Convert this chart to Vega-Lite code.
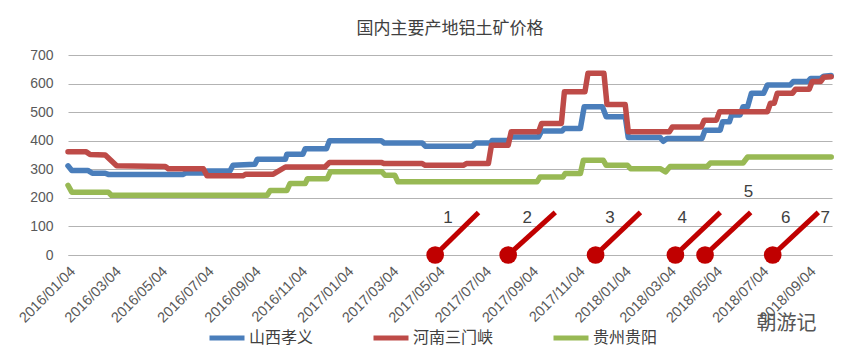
{
  "$schema": "https://vega.github.io/schema/vega-lite/v6.json",
  "width": 764,
  "height": 200,
  "autosize": {"type": "none"},
  "padding": {"left": 68, "top": 55, "right": 12, "bottom": 106},
  "background": "white",
  "config": {"view": {"stroke": null}},
  "title": {"text": "国内主要产地铝土矿价格", "font": "Noto Sans CJK SC", "fontSize": 17, "fontWeight": "normal", "color": "#404040", "offset": 10},
  "datasets": {
    "prices": [
      {"d":"2016/01/04","v":312,"s":"山西孝义"},{"d":"2016/01/09","v":296,"s":"山西孝义"},{"d":"2016/01/30","v":296,"s":"山西孝义"},{"d":"2016/02/05","v":286,"s":"山西孝义"},{"d":"2016/02/22","v":286,"s":"山西孝义"},{"d":"2016/02/26","v":282,"s":"山西孝义"},{"d":"2016/06/03","v":282,"s":"山西孝义"},{"d":"2016/06/07","v":287,"s":"山西孝义"},{"d":"2016/06/30","v":287,"s":"山西孝义"},{"d":"2016/07/05","v":294,"s":"山西孝义"},{"d":"2016/08/04","v":294,"s":"山西孝义"},{"d":"2016/08/08","v":314,"s":"山西孝义"},{"d":"2016/09/06","v":318,"s":"山西孝义"},{"d":"2016/09/09","v":335,"s":"山西孝义"},{"d":"2016/10/16","v":335,"s":"山西孝义"},{"d":"2016/10/18","v":353,"s":"山西孝义"},{"d":"2016/11/08","v":353,"s":"山西孝义"},{"d":"2016/11/11","v":372,"s":"山西孝义"},{"d":"2016/12/09","v":372,"s":"山西孝义"},{"d":"2016/12/13","v":400,"s":"山西孝义"},{"d":"2017/02/19","v":400,"s":"山西孝义"},{"d":"2017/02/23","v":392,"s":"山西孝义"},{"d":"2017/04/14","v":392,"s":"山西孝义"},{"d":"2017/04/18","v":381,"s":"山西孝义"},{"d":"2017/06/19","v":381,"s":"山西孝义"},{"d":"2017/06/23","v":392,"s":"山西孝义"},{"d":"2017/07/13","v":392,"s":"山西孝义"},{"d":"2017/07/15","v":401,"s":"山西孝义"},{"d":"2017/08/05","v":401,"s":"山西孝义"},{"d":"2017/08/09","v":413,"s":"山西孝义"},{"d":"2017/09/14","v":413,"s":"山西孝义"},{"d":"2017/09/18","v":434,"s":"山西孝义"},{"d":"2017/10/15","v":434,"s":"山西孝义"},{"d":"2017/10/18","v":443,"s":"山西孝义"},{"d":"2017/11/08","v":443,"s":"山西孝义"},{"d":"2017/11/13","v":519,"s":"山西孝义"},{"d":"2017/12/07","v":519,"s":"山西孝义"},{"d":"2017/12/12","v":484,"s":"山西孝义"},{"d":"2018/01/06","v":484,"s":"山西孝义"},{"d":"2018/01/10","v":411,"s":"山西孝义"},{"d":"2018/02/21","v":411,"s":"山西孝义"},{"d":"2018/02/25","v":398,"s":"山西孝义"},{"d":"2018/03/02","v":408,"s":"山西孝义"},{"d":"2018/04/17","v":408,"s":"山西孝义"},{"d":"2018/04/21","v":437,"s":"山西孝义"},{"d":"2018/05/11","v":437,"s":"山西孝义"},{"d":"2018/05/14","v":466,"s":"山西孝义"},{"d":"2018/05/23","v":466,"s":"山西孝义"},{"d":"2018/05/26","v":490,"s":"山西孝义"},{"d":"2018/06/06","v":490,"s":"山西孝义"},{"d":"2018/06/10","v":519,"s":"山西孝义"},{"d":"2018/06/16","v":519,"s":"山西孝义"},{"d":"2018/06/21","v":566,"s":"山西孝义"},{"d":"2018/07/07","v":566,"s":"山西孝义"},{"d":"2018/07/12","v":595,"s":"山西孝义"},{"d":"2018/08/11","v":595,"s":"山西孝义"},{"d":"2018/08/15","v":607,"s":"山西孝义"},{"d":"2018/09/03","v":607,"s":"山西孝义"},{"d":"2018/09/07","v":618,"s":"山西孝义"},{"d":"2018/09/20","v":618,"s":"山西孝义"},{"d":"2018/09/24","v":626,"s":"山西孝义"},{"d":"2018/10/04","v":628,"s":"山西孝义"},
      {"d":"2016/01/04","v":361,"s":"河南三门峡"},{"d":"2016/01/28","v":361,"s":"河南三门峡"},{"d":"2016/02/02","v":352,"s":"河南三门峡"},{"d":"2016/02/22","v":350,"s":"河南三门峡"},{"d":"2016/03/08","v":312,"s":"河南三门峡"},{"d":"2016/05/11","v":310,"s":"河南三门峡"},{"d":"2016/05/15","v":302,"s":"河南三门峡"},{"d":"2016/06/30","v":302,"s":"河南三门峡"},{"d":"2016/07/05","v":277,"s":"河南三门峡"},{"d":"2016/08/21","v":277,"s":"河南三门峡"},{"d":"2016/08/25","v":283,"s":"河南三门峡"},{"d":"2016/09/30","v":283,"s":"河南三门峡"},{"d":"2016/10/16","v":308,"s":"河南三门峡"},{"d":"2016/12/07","v":308,"s":"河南三门峡"},{"d":"2016/12/13","v":324,"s":"河南三门峡"},{"d":"2017/02/19","v":324,"s":"河南三门峡"},{"d":"2017/02/23","v":320,"s":"河南三门峡"},{"d":"2017/04/14","v":320,"s":"河南三门峡"},{"d":"2017/04/18","v":314,"s":"河南三门峡"},{"d":"2017/06/07","v":314,"s":"河南三门峡"},{"d":"2017/06/11","v":320,"s":"河南三门峡"},{"d":"2017/07/10","v":320,"s":"河南三门峡"},{"d":"2017/07/14","v":384,"s":"河南三门峡"},{"d":"2017/08/05","v":384,"s":"河南三门峡"},{"d":"2017/08/09","v":431,"s":"河南三门峡"},{"d":"2017/09/14","v":431,"s":"河南三门峡"},{"d":"2017/09/18","v":460,"s":"河南三门峡"},{"d":"2017/10/14","v":460,"s":"河南三门峡"},{"d":"2017/10/18","v":571,"s":"河南三门峡"},{"d":"2017/11/14","v":571,"s":"河南三门峡"},{"d":"2017/11/18","v":636,"s":"河南三门峡"},{"d":"2017/12/09","v":636,"s":"河南三门峡"},{"d":"2017/12/13","v":527,"s":"河南三门峡"},{"d":"2018/01/06","v":527,"s":"河南三门峡"},{"d":"2018/01/10","v":431,"s":"河南三门峡"},{"d":"2018/03/05","v":431,"s":"河南三门峡"},{"d":"2018/03/09","v":448,"s":"河南三门峡"},{"d":"2018/04/16","v":448,"s":"河南三门峡"},{"d":"2018/04/20","v":472,"s":"河南三门峡"},{"d":"2018/05/06","v":472,"s":"河南三门峡"},{"d":"2018/05/10","v":501,"s":"河南三门峡"},{"d":"2018/07/12","v":501,"s":"河南三门峡"},{"d":"2018/07/16","v":531,"s":"河南三门峡"},{"d":"2018/07/21","v":531,"s":"河南三门峡"},{"d":"2018/07/25","v":566,"s":"河南三门峡"},{"d":"2018/08/14","v":566,"s":"河南三门峡"},{"d":"2018/08/18","v":580,"s":"河南三门峡"},{"d":"2018/09/05","v":580,"s":"河南三门峡"},{"d":"2018/09/09","v":607,"s":"河南三门峡"},{"d":"2018/09/20","v":607,"s":"河南三门峡"},{"d":"2018/09/24","v":622,"s":"河南三门峡"},{"d":"2018/10/04","v":624,"s":"河南三门峡"},
      {"d":"2016/01/04","v":244,"s":"贵州贵阳"},{"d":"2016/01/09","v":220,"s":"贵州贵阳"},{"d":"2016/02/26","v":220,"s":"贵州贵阳"},{"d":"2016/03/01","v":209,"s":"贵州贵阳"},{"d":"2016/09/22","v":209,"s":"贵州贵阳"},{"d":"2016/09/26","v":226,"s":"贵州贵阳"},{"d":"2016/10/18","v":226,"s":"贵州贵阳"},{"d":"2016/10/22","v":250,"s":"贵州贵阳"},{"d":"2016/11/11","v":250,"s":"贵州贵阳"},{"d":"2016/11/14","v":267,"s":"贵州贵阳"},{"d":"2016/12/10","v":267,"s":"贵州贵阳"},{"d":"2016/12/14","v":291,"s":"贵州贵阳"},{"d":"2017/02/20","v":291,"s":"贵州贵阳"},{"d":"2017/02/24","v":279,"s":"贵州贵阳"},{"d":"2017/03/09","v":279,"s":"贵州贵阳"},{"d":"2017/03/13","v":256,"s":"贵州贵阳"},{"d":"2017/09/12","v":256,"s":"贵州贵阳"},{"d":"2017/09/16","v":273,"s":"贵州贵阳"},{"d":"2017/10/16","v":273,"s":"贵州贵阳"},{"d":"2017/10/19","v":285,"s":"贵州贵阳"},{"d":"2017/11/08","v":285,"s":"贵州贵阳"},{"d":"2017/11/12","v":332,"s":"贵州贵阳"},{"d":"2017/12/08","v":332,"s":"贵州贵阳"},{"d":"2017/12/12","v":314,"s":"贵州贵阳"},{"d":"2018/01/09","v":314,"s":"贵州贵阳"},{"d":"2018/01/13","v":302,"s":"贵州贵阳"},{"d":"2018/02/21","v":302,"s":"贵州贵阳"},{"d":"2018/02/28","v":291,"s":"贵州贵阳"},{"d":"2018/03/06","v":310,"s":"贵州贵阳"},{"d":"2018/04/24","v":310,"s":"贵州贵阳"},{"d":"2018/04/28","v":322,"s":"贵州贵阳"},{"d":"2018/06/10","v":322,"s":"贵州贵阳"},{"d":"2018/06/16","v":343,"s":"贵州贵阳"},{"d":"2018/10/04","v":343,"s":"贵州贵阳"}
    ],
    "pins": [
      {"d":"2017/05/01","d2":"2017/06/27","v":0,"v2":149},
      {"d":"2017/08/05","d2":"2017/10/06","v":0,"v2":149},
      {"d":"2017/11/28","d2":"2018/01/26","v":0,"v2":149},
      {"d":"2018/03/13","d2":"2018/05/11","v":0,"v2":149},
      {"d":"2018/04/21","d2":"2018/06/20","v":0,"v2":149},
      {"d":"2018/07/19","d2":"2018/09/17","v":0,"v2":149}
    ],
    "labels": [
      {"n":"1","d":"2017/05/18","v":128},
      {"n":"2","d":"2017/08/30","v":128},
      {"n":"3","d":"2017/12/17","v":128},
      {"n":"4","d":"2018/03/22","v":128},
      {"n":"5","d":"2018/06/17","v":219},
      {"n":"6","d":"2018/08/05","v":128},
      {"n":"7","d":"2018/09/26","v":128}
    ],
    "mark": [
      {"t":"朝游记","d":"2018/08/06","v":-240}
    ]
  },
  "encoding": {
    "x": {
      "field": "d", "type": "temporal",
      "scale": {"domain": [{"year":2016,"month":1,"date":4},{"year":2018,"month":10,"date":5}]},
      "axis": {
        "title": null, "format": "%Y/%m/%d", "labelAngle": -45,
        "values": [
          {"year":2016,"month":1,"date":4},{"year":2016,"month":3,"date":4},{"year":2016,"month":5,"date":4},{"year":2016,"month":7,"date":4},{"year":2016,"month":9,"date":4},{"year":2016,"month":11,"date":4},
          {"year":2017,"month":1,"date":4},{"year":2017,"month":3,"date":4},{"year":2017,"month":5,"date":4},{"year":2017,"month":7,"date":4},{"year":2017,"month":9,"date":4},{"year":2017,"month":11,"date":4},
          {"year":2018,"month":1,"date":4},{"year":2018,"month":3,"date":4},{"year":2018,"month":5,"date":4},{"year":2018,"month":7,"date":4},{"year":2018,"month":9,"date":4}
        ],
        "grid": false, "ticks": false, "domainColor": "#b3b3b3", "domainWidth": 1,
        "labelFont": "Liberation Sans", "labelFontSize": 14.5, "labelColor": "#595959",
        "labelPadding": 9, "labelOverlap": false, "labelFlush": false
      }
    },
    "y": {
      "field": "v", "type": "quantitative",
      "scale": {"domain": [0, 700], "nice": false},
      "axis": {
        "title": null, "values": [0,100,200,300,400,500,600,700], "labelOverlap": false, "grid": true,
        "domain": false, "ticks": false, "gridColor": "#b3b3b3", "gridWidth": 1,
        "labelFont": "Liberation Sans", "labelFontSize": 14, "labelColor": "#595959", "labelPadding": 15
      }
    }
  },
  "layer": [
    {
      "data": {"name": "prices"},
      "mark": {"type": "line", "strokeWidth": 5.5, "strokeJoin": "round", "strokeCap": "round"},
      "encoding": {
        "color": {
          "field": "s", "type": "nominal",
          "scale": {"domain": ["山西孝义", "河南三门峡", "贵州贵阳"], "range": ["#4A7EBB", "#BE4B48", "#98B954"]},
          "legend": {
            "orient": "none", "legendX": 139, "legendY": 263, "direction": "horizontal", "title": null,
            "symbolType": "stroke", "symbolSize": 1225, "symbolStrokeWidth": 5,
            "labelFont": "Noto Sans CJK SC", "labelFontSize": 16, "labelColor": "#404040",
            "labelOffset": 2, "columnPadding": 49
          }
        }
      }
    },
    {
      "data": {"name": "pins"},
      "mark": {"type": "rule", "color": "#C00000", "strokeWidth": 5},
      "encoding": {
        "x2": {"field": "d2"},
        "y2": {"field": "v2"}
      }
    },
    {
      "data": {"name": "pins"},
      "mark": {"type": "point", "filled": true, "opacity": 1, "color": "#C00000", "size": 314},
      "encoding": {}
    },
    {
      "data": {"name": "labels"},
      "mark": {"type": "text", "font": "Liberation Sans", "fontSize": 17, "color": "#404040", "baseline": "middle", "align": "center"},
      "encoding": {
        "text": {"field": "n"}
      }
    },
    {
      "data": {"name": "mark"},
      "mark": {"type": "text", "font": "Noto Sans CJK SC", "fontSize": 20, "color": "#555555", "baseline": "middle", "align": "center"},
      "encoding": {
        "text": {"field": "t"}
      }
    }
  ]
}
